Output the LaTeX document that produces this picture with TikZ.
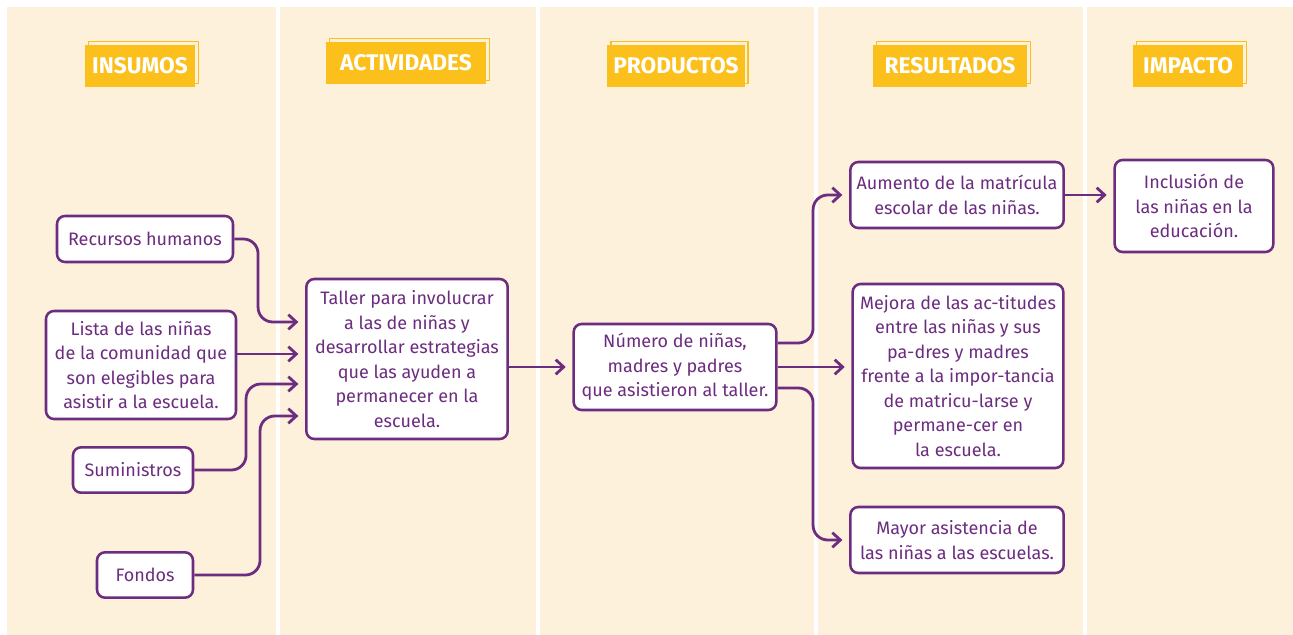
\documentclass[tikz,border=0pt]{standalone}
\usepackage{fontspec}
\setmainfont{Fira Sans}
\usepackage{xcolor}
\usepackage{tikz}
\usetikzlibrary{positioning}
\usetikzlibrary{calc}
\usetikzlibrary{shadows}
\usetikzlibrary{arrows.meta}

\definecolor{cream}{HTML}{FEF1DC}
\definecolor{plum}{HTML}{6C2C7F}
\definecolor{gold}{HTML}{FCC01C}

\begin{document}
\begin{tikzpicture}[
      x=0.75pt, y=-0.75pt,
      box/.style={draw=plum, fill=white, line width=1.9pt, rounded corners=6pt,
        text=plum, align=center, inner sep=0pt,
        font=\fontsize{13.5}{18.4}\selectfont},
      hdr/.style={fill=gold, text=white, inner sep=0pt, minimum height=31.5pt,
        font=\fontsize{17}{19}\selectfont\bfseries,
        copy shadow={shadow xshift=2.6pt, shadow yshift=2.6pt, fill=none,
          draw=gold, line width=1.1pt}},
      link/.style={draw=plum, line width=2.1pt, rounded corners=11pt,
        -{Straight Barb[length=6pt, width=11pt]}, shorten >=5pt}
      ]

      \useasboundingbox (0,0) rectangle (1293,635);
      \fill[cream] (7,7) rectangle (1293,635);
      \foreach \x in {276,536,814,1083}
        \fill[white] (\x,7) rectangle +(4,628);

      % column headers
      \node[hdr, minimum width=82.5pt] (hins) at (140,66) {INSUMOS};
      \node[hdr, minimum width=120pt] (hact) at (406,63) {ACTIVIDADES};
      \node[hdr, minimum width=103pt] (hpro) at (676,66) {PRODUCTOS};
      \node[hdr, minimum width=115.5pt] (hres) at (950,66) {RESULTADOS};
      \node[hdr, minimum width=82.5pt] (himp) at (1188,66) {IMPACTO};

      % inputs
      \node[box, minimum width=132pt, minimum height=34.5pt] (rec) at (145,239) {Recursos humanos};
      \node[box, minimum width=142.5pt, minimum height=81pt] (lista) at (141,365)
        {Lista de las niñas\\de la comunidad que\\son elegibles para\\asistir a la escuela.};
      \node[box, minimum width=90pt, minimum height=34pt] (sum) at (133,470) {Suministros};
      \node[box, minimum width=72pt, minimum height=34pt] (fondos) at (145,575) {Fondos};

      % activity and product
      \node[box, minimum width=151pt, minimum height=120pt] (taller) at (407,359)
        {Taller para involucrar\\a las de niñas y\\desarrollar estrategias\\que las ayuden a\\permanecer en la\\escuela.};
      \node[box, minimum width=152pt, minimum height=64.5pt] (numero) at (675,367)
        {Número de niñas,\\madres y padres\\que asistieron al taller.};

      % results and impact
      \node[box, minimum width=160pt, minimum height=49.5pt] (aumento) at (957,195)
        {Aumento de la matrícula\\escolar de las niñas.};
      \node[box, minimum width=158pt, minimum height=138pt] (mejora) at (958,376)
        {Mejora de las ac-titudes\\entre las niñas y sus\\pa-dres y madres\\frente a la impor-tancia\\de matricu-larse y\\permane-cer en\\la escuela.};
      \node[box, minimum width=160pt, minimum height=49.5pt] (mayor) at (957,540)
        {Mayor asistencia de\\las niñas a las escuelas.};
      \node[box, minimum width=119pt, minimum height=69pt] (inclusion) at (1194,206)
        {Inclusión de\\las niñas en la\\educación.};

      \coordinate (in1) at ($(taller.west)+(0,-37)$);
      \coordinate (in2) at ($(taller.west)+(0,-5)$);
      \coordinate (in3) at ($(taller.west)+(0,25)$);
      \coordinate (in4) at ($(taller.west)+(0,57)$);

      \draw[link] (rec.east) -| ($(in1)+(-47,0)$) -- (in1);
      \draw[link] (lista.east |- in2) -- (in2);
      \draw[link] (sum.east) -| ($(in3)+(-59,0)$) -- (in3);
      \draw[link] (fondos.east) -| ($(in4)+(-45,0)$) -- (in4);

      \draw[link] (taller.east |- numero.west) -- (numero.west);

      \draw[link] ($(numero.east)+(0,-24)$) -| ($(aumento.west)+(-36,0)$) -- (aumento.west);
      \draw[link] (numero.east) -- (mejora.west |- numero.east);
      \draw[link] ($(numero.east)+(0,21)$) -| ($(mayor.west)+(-36,0)$) -- (mayor.west);

      \draw[link] (aumento.east) -- (inclusion.west |- aumento.east);

\end{tikzpicture}
\end{document}
